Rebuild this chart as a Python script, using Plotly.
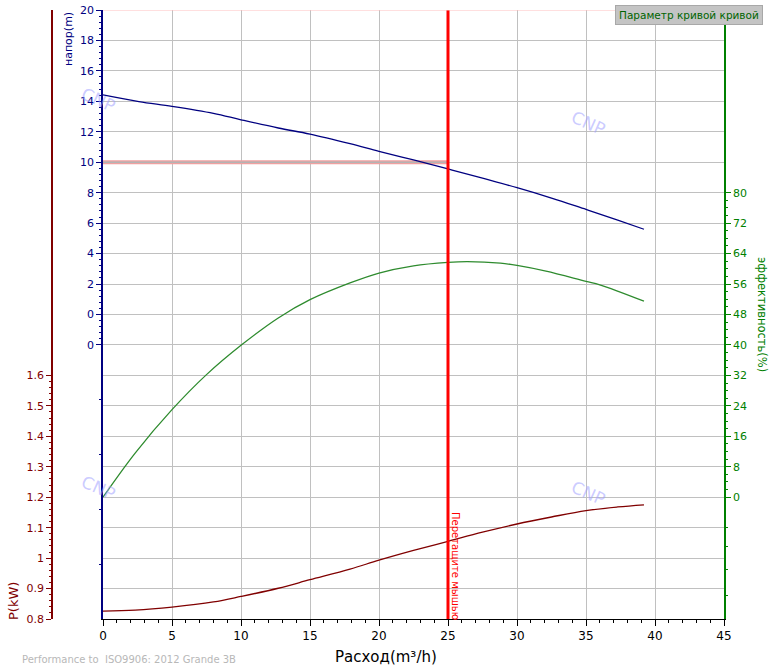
import plotly.graph_objects as go

# pump curves
flow = [0, 2.6, 5, 8, 10, 12.7, 15, 17.9, 20, 22.5, 25, 27.5, 30, 32.5, 35, 37.3, 39.2]
head = [14.42, 13.98, 13.67, 13.21, 12.79, 12.25, 11.85, 11.22, 10.72, 10.15, 9.56,
        8.95, 8.33, 7.65, 6.9, 6.2, 5.6]
eff_flow = [0, 2.33, 5, 7.5, 10, 12.7, 15, 17.9, 20, 22.5, 25, 26.4, 28.8, 30, 32.1, 35, 36, 39.2]
efficiency = [0, 11.6, 23.0, 32.2, 39.9, 47.1, 51.9, 56.3, 58.9, 60.8, 61.7, 61.9, 61.5,
              60.9, 59.4, 56.7, 55.8, 51.5]
power_flow = [0, 2.33, 5, 8, 10, 12.7, 15, 17.9, 20, 22.5, 25, 27.5, 30, 32.5, 35, 37.3, 39.2]
power = [0.826, 0.829, 0.839, 0.856, 0.874, 0.901, 0.929, 0.964, 0.993, 1.025, 1.055,
         1.085, 1.112, 1.135, 1.156, 1.168, 1.175]

duty_flow = 25
duty_head = 10

head_ticks = [-2, 0, 2, 4, 6, 8, 10, 12, 14, 16, 18, 20]
head_labels = ['0', '0', '2', '4', '6', '8', '10', '12', '14', '16', '18', '20']
power_ticks = [0.8, 0.9, 1.0, 1.1, 1.2, 1.3, 1.4, 1.5, 1.6]
power_labels = ['0.8', '0.9', '1', '1.1', '1.2', '1.3', '1.4', '1.5', '1.6']
eff_ticks = [0, 8, 16, 24, 32, 40, 48, 56, 64, 72, 80]

W, H = 771, 668
x0, x1 = 103, 724      # plot area, pixels
y_top, y_bot = 10, 619
FONT = "DejaVu Sans"
NAVY = '#000080'
DRED = '#800000'
GREEN = '#008000'

head_minor = [round(-2 + 0.4 * i, 2) for i in range(56) if round((-2 + 0.4 * i) % 2, 2) not in (0, 2)]
head_minor += [-5.6, -9.2, -12.8, -16.4]
power_minor = [round(0.8 + 0.02 * i, 2) for i in range(41) if i % 5]
eff_minor = [2 * i for i in range(41) if i % 4] + [-8, -13, -19, -25.7]

fig = go.Figure()

fig.add_trace(go.Scatter(x=[0, duty_flow], y=[duty_head, duty_head], mode='lines',
                         line=dict(color='#f0a0a0', width=4), yaxis='y', hoverinfo='skip'))
fig.add_trace(go.Scatter(x=[0, duty_flow], y=[duty_head, duty_head], mode='lines',
                         line=dict(color='#b4b4b4', width=1.5), yaxis='y', hoverinfo='skip'))
fig.add_trace(go.Scatter(x=flow, y=head, mode='lines', line=dict(color=NAVY, width=1.3, shape='spline'),
                         yaxis='y', name='напор'))
fig.add_trace(go.Scatter(x=eff_flow, y=efficiency, mode='lines',
                         line=dict(color='#2e8b2e', width=1.3, shape='spline'),
                         yaxis='y3', name='эффективность'))
fig.add_trace(go.Scatter(x=power_flow, y=power, mode='lines',
                         line=dict(color=DRED, width=1.3, shape='spline'),
                         yaxis='y2', name='P'))
fig.add_trace(go.Scatter(x=[duty_flow, duty_flow], y=[-20, 20], mode='lines',
                         line=dict(color='#ff0000', width=3), yaxis='y4', hoverinfo='skip'))

dom_x = [x0 / W, x1 / W]
dom_y = [(H - y_bot) / H, (H - y_top) / H]

fig.update_layout(
    width=W, height=H,
    margin=dict(l=0, r=0, t=0, b=0, autoexpand=False),
    paper_bgcolor='white', plot_bgcolor='white',
    showlegend=False,
    font=dict(family=FONT, size=11),
    xaxis=dict(
        domain=dom_x, range=[0, 45], dtick=5, tick0=0, automargin=False,
        showline=True, linecolor='black', linewidth=1,
        ticks='outside', ticklen=6, tickcolor='black',
        tickfont=dict(family=FONT, size=12, color='black'),
        showgrid=True, gridcolor='#c0c0c0', zeroline=False,
        minor=dict(dtick=1, ticks='outside', ticklen=3, tickcolor='black', showgrid=False),
        anchor='y', ticklabeloverflow='allow',
    ),
    yaxis=dict(
        domain=dom_y, range=[-20, 20], automargin=False,
        tickmode='array', tickvals=head_ticks, ticktext=head_labels,
        showline=True, linecolor=NAVY, linewidth=1.5,
        ticks='outside', ticklen=5, tickcolor=NAVY,
        tickfont=dict(family=FONT, size=11, color=NAVY),
        showgrid=False, zeroline=False,
        minor=dict(tickmode='array', tickvals=head_minor, ticks='outside', ticklen=2,
                   tickcolor=NAVY, showgrid=False),
        anchor='x', ticklabeloverflow='allow',
    ),
    yaxis2=dict(
        overlaying='y', anchor='free', position=52 / W, side='left',
        range=[0.8, 2.8], automargin=False,
        tickmode='array', tickvals=power_ticks, ticktext=power_labels,
        showline=True, linecolor=DRED, linewidth=1.5,
        ticks='outside', ticklen=5, tickcolor=DRED,
        tickfont=dict(family=FONT, size=11, color=DRED),
        showgrid=False, zeroline=False, ticklabeloverflow='allow',
        minor=dict(tickmode='array', tickvals=power_minor, ticks='outside', ticklen=2,
                   tickcolor=DRED, showgrid=False),
    ),
    yaxis3=dict(
        overlaying='y', anchor='x', side='right',
        range=[-32, 128], automargin=False,
        tickmode='array', tickvals=eff_ticks,
        showline=True, linecolor=GREEN, linewidth=1.5,
        ticks='outside', ticklen=5, tickcolor=GREEN,
        tickfont=dict(family=FONT, size=11, color=GREEN),
        showgrid=False, zeroline=False, ticklabeloverflow='allow',
        minor=dict(tickmode='array', tickvals=eff_minor, ticks='outside', ticklen=2,
                   tickcolor=GREEN, showgrid=False),
    ),
    yaxis4=dict(
        overlaying='y', anchor='x', side='left', range=[-20, 20], automargin=False,
        dtick=2, tick0=0, showgrid=True, gridcolor='#c0c0c0',
        showticklabels=False, ticks='', showline=False, zeroline=False,
    ),
)

# pink top border
fig.add_shape(type='line', xref='x', yref='y', x0=0, x1=45, y0=20, y1=20,
              line=dict(color='#ffc0c0', width=1))


def note(cx, cy, text, xanchor='center', **kw):
    # cx, cy: pixel position of the text (centre unless xanchor says otherwise)
    return dict(x=cx / W, y=(H - cy) / H, xref='paper', yref='paper',
                xanchor=xanchor, yanchor='middle', text=text, showarrow=False, **kw)


ann = []
for cx, cy in [(99, 100), (588, 123), (99, 488), (588, 493)]:
    ann.append(note(cx, cy, 'CNP', textangle=24,
                    font=dict(family=FONT, size=17, color='rgba(160,160,255,0.55)')))

ann.append(note(68, 39, 'напор(m)', textangle=-90, font=dict(family=FONT, size=11, color=NAVY)))
ann.append(note(13, 601, 'P(kW)', textangle=-90, font=dict(family=FONT, size=13, color=DRED)))
ann.append(note(762, 314, 'эффективность(%)', textangle=90,
                font=dict(family=FONT, size=11.5, color=GREEN)))
ann.append(note(386, 657, 'Расход(m³/h)', font=dict(family=FONT, size=15, color='black')))
ann.append(note(20, 659, 'Performance to  ISO9906: 2012 Grande 3B', xanchor='left',
                font=dict(family=FONT, size=10, color='#b8b8b8')))
ann.append(note(689, 15, 'Параметр кривой кривой',
                bgcolor='#c4c4c4', bordercolor='#a8a8a8', borderwidth=1, borderpad=3,
                font=dict(family=FONT, size=10.5, color='#006400')))
ann.append(note(456, 566, 'Перетащите мышью', textangle=90,
                font=dict(family=FONT, size=10, color='#ff0000')))

fig.update_layout(annotations=ann)

# drop the browser's default 8px body margin so the figure fills the window
fig.write_html("out.html", config={'displayModeBar': False},
               post_script="document.body.style.margin = '0';")
